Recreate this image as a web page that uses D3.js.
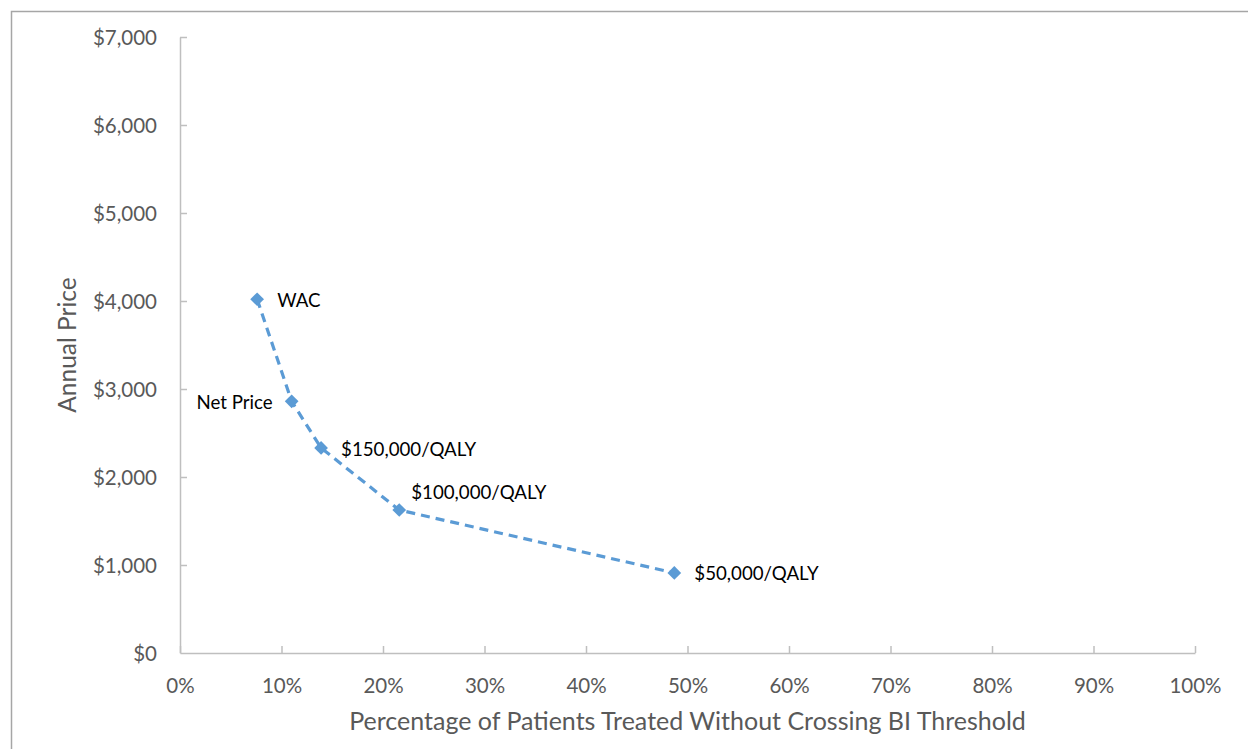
<!DOCTYPE html>
<html>
<head>
<meta charset="utf-8">
<script src="https://cdn.jsdelivr.net/npm/d3@7"></script>
<style>
  body { margin: 0; background: #fff; }
  svg { display: block; font-family: Lato, sans-serif; }
</style>
</head>
<body>
<div id="chart"></div>
<script>
// data
const labels = ["WAC", "Net Price", "$150,000/QALY", "$100,000/QALY", "$50,000/QALY"];
const pctTreated = [0.076, 0.110, 0.139, 0.216, 0.487];
const annualPrice = [4020, 2860, 2330, 1625, 910];
const labelSide = ["right", "left", "right", "above", "right"];
const yTicks = [0, 1000, 2000, 3000, 4000, 5000, 6000, 7000];
const xTicks = [0, .1, .2, .3, .4, .5, .6, .7, .8, .9, 1];

const width = 1248, height = 749;
const margin = {left: 180, right: 53, top: 37, bottom: 96};
const fontFam = "Lato, sans-serif";

var svg = d3.select("#chart").append("svg")
  .attr("width", width)
  .attr("height", height);

// outer chart border
svg.append("rect")
  .attr("x", 11.5).attr("y", 11.5)
  .attr("width", width).attr("height", height)
  .attr("fill", "none").attr("stroke", "#a6a6a6").attr("stroke-width", 1.5);

var x = d3.scaleLinear().domain([0, 1]).range([margin.left, width - margin.right]);
var y = d3.scaleLinear().domain([0, 7000]).range([height - margin.bottom, margin.top]);

//axes
var xAxis = svg.append("g")
  .attr("transform", "translate(0," + y(0) + ")")
  .call(d3.axisBottom(x).tickValues(xTicks).tickFormat(d3.format(".0%")).tickSizeInner(-7).tickSizeOuter(0));
var yAxis = svg.append("g")
  .attr("transform", "translate(" + x(0) + ",0)")
  .call(d3.axisLeft(y).tickValues(yTicks).tickFormat(d => "$" + d3.format(",")(d)).tickSizeInner(-7).tickSizeOuter(0).tickPadding(23));

[xAxis, yAxis].forEach(function(a) {
  a.attr("font-family", fontFam).attr("font-size", 20.5);
  a.select(".domain").attr("stroke", "#bfbfbf").attr("stroke-width", 1.5);
  a.selectAll(".tick line").attr("stroke", "#bfbfbf").attr("stroke-width", 1.5);
  a.selectAll(".tick text").attr("fill", "#595959");
});
xAxis.selectAll(".tick text").attr("dy", "0.35em").attr("y", 33);
yAxis.selectAll(".tick text").attr("dy", "0.36em");
yAxis.selectAll(".tick").filter(d => d == 0).select("line").remove();

//axis titles
svg.append("text")
  .attr("x", (x(0) + x(1)) / 2).attr("y", 730)
  .attr("text-anchor", "middle")
  .attr("fill", "#595959").attr("font-size", "25px")
  .text("Percentage of Patients Treated Without Crossing BI Threshold");

svg.append("text")
  .attr("transform", "translate(76," + ((y(0) + y(7000)) / 2) + ") rotate(-90)")
  .attr("text-anchor", "middle")
  .attr("fill", "#595959").attr("font-size", "24.5px")
  .text("Annual Price");

var pts = labels.map((l, i) => ({label: l, px: pctTreated[i], price: annualPrice[i], side: labelSide[i]}));

//dashed line
var line = d3.line().x(d => x(d.px)).y(d => y(d.price));
svg.append("path")
  .datum(pts)
  .attr("d", line)
  .attr("fill", "none")
  .attr("stroke", "#5b9bd5")
  .attr("stroke-width", 3.2)
  .attr("stroke-dasharray", "9,6");

//diamond markers
svg.selectAll(".pt").data(pts).enter().append("path")
  .attr("class", "pt")
  .attr("d", d3.symbol().type(d3.symbolDiamond2).size(120))
  .attr("transform", d => "translate(" + x(d.px) + "," + y(d.price) + ")")
  .attr("fill", "#5b9bd5");

//point labels
svg.selectAll(".lbl").data(pts).enter().append("text")
  .attr("class", "lbl")
  .attr("x", d => d.side == "left" ? x(d.px) - 19 : (d.side == "above" ? x(d.px) + 12 : x(d.px) + 20))
  .attr("y", d => d.side == "above" ? y(d.price) - 18 : y(d.price) + 1)
  .attr("dy", "0.35em")
  .attr("text-anchor", d => d.side == "left" ? "end" : "start")
  .attr("fill", "#000")
  .attr("font-size", "18.7px")
  .text(d => d.label);
</script>
</body>
</html>
